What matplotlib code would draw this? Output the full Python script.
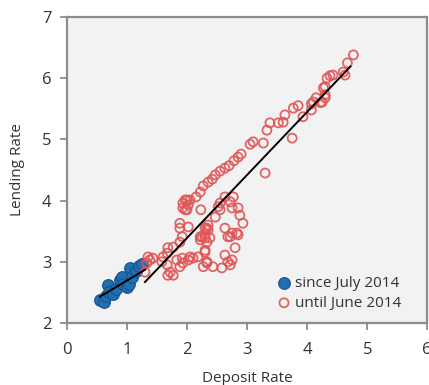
import matplotlib
matplotlib.use("Agg")
import matplotlib.pyplot as plt
import numpy as np

plt.rcParams['font.family'] = ['Open Sans', 'DejaVu Sans']

# since July 2014 (blue, filled)
blue_x = [0.55, 0.62, 0.65, 0.68, 0.70, 0.77, 0.82, 0.88, 0.92, 0.93, 1.00, 1.03, 1.05, 1.08, 1.15, 1.20, 1.25]
blue_y = [2.38, 2.34, 2.44, 2.62, 2.51, 2.47, 2.56, 2.70, 2.75, 2.64, 2.59, 2.64, 2.90, 2.75, 2.85, 2.93, 2.96]

# until June 2014 (red, hollow)
red_x = [4.77, 4.67, 4.60, 4.63, 4.43, 4.38, 4.33, 4.30, 4.27, 4.30, 4.30, 4.25, 4.22, 4.15, 4.10,
         4.07, 4.07, 3.93, 3.85, 3.77, 3.63, 3.60, 3.52, 3.38, 3.33, 3.27, 3.10, 3.05, 3.75, 3.30,
         2.05, 2.15, 2.22, 2.27, 2.35, 2.42, 2.47, 2.55, 2.63, 2.70, 2.78, 2.85, 2.90,
         1.93, 1.97, 2.00, 2.02, 1.97, 1.93, 2.00,
         2.23, 2.55, 2.63, 2.77, 2.72, 2.75, 2.85, 2.52, 2.55, 2.88, 2.93, 2.47, 2.35, 2.33, 2.30,
         2.35, 2.25, 2.30, 2.38, 2.22, 2.63, 2.75, 2.68, 2.83, 2.85, 2.72, 2.80, 2.63, 2.68, 2.75,
         2.72, 2.43, 2.33, 2.58, 2.30,
         1.88, 1.88, 2.02, 1.92, 2.22, 2.30, 2.33, 1.88, 1.77, 1.68, 1.67, 1.60, 1.58, 1.67, 1.72,
         1.77, 1.68, 1.83, 1.92, 1.93, 2.02, 2.05, 2.10, 2.18, 1.88, 1.38, 1.43, 1.33, 1.30, 1.35,
         2.30, 2.33, 2.27]
red_y = [6.38, 6.25, 6.10, 6.05, 6.05, 6.04, 6.00, 5.86, 5.84, 5.73, 5.68, 5.61, 5.60, 5.68, 5.61,
         5.58, 5.48, 5.37, 5.55, 5.51, 5.40, 5.28, 5.27, 5.27, 5.15, 4.94, 4.96, 4.92, 5.02, 4.45,
         4.01, 4.06, 4.14, 4.24, 4.30, 4.35, 4.42, 4.48, 4.53, 4.57, 4.65, 4.71, 4.76,
         3.96, 4.01, 4.01, 3.93, 3.85, 3.88, 3.85,
         3.85, 3.96, 4.06, 4.06, 3.98, 3.88, 3.88, 3.90, 3.85, 3.76, 3.63, 3.73, 3.60, 3.55, 3.55,
         3.52, 3.41, 3.39, 3.39, 3.36, 3.55, 3.47, 3.41, 3.47, 3.44, 3.41, 3.23, 3.11, 3.00, 3.03,
         2.95, 2.92, 2.98, 2.90, 3.16,
         3.63, 3.55, 3.57, 3.41, 3.41, 3.44, 3.32, 3.32, 3.24, 3.23, 3.14, 3.08, 3.00, 2.95, 2.83,
         2.78, 2.78, 3.03, 3.06, 2.98, 3.03, 3.08, 3.06, 3.08, 2.92, 3.03, 3.06, 2.98, 2.83, 3.08,
         3.19, 3.00, 2.92]

# trend lines (end points)
blue_fit_x = [0.55, 1.30]
blue_fit_y = [2.43, 2.87]
red_fit_x = [1.30, 4.72]
red_fit_y = [2.67, 6.19]

x_ticks = [0, 1, 2, 3, 4, 5, 6]
y_ticks = [2, 3, 4, 5, 6, 7]

fig = plt.figure(figsize=(4.29, 3.85), dpi=100)
ax = fig.add_axes([0.156, 0.161, 0.84, 0.795])
ax.set_facecolor('#f2f2f2')

ax.scatter(blue_x, blue_y, s=70, facecolor='#1f6fb2', edgecolor='#17568c', linewidth=0.9,
           zorder=3, label='since July 2014')
ax.scatter(red_x, red_y, s=42, facecolor='none', edgecolor='#e05555', linewidth=1.3,
           alpha=0.9, zorder=4, label='until June 2014')
ax.plot(blue_fit_x, blue_fit_y, color='black', lw=1.4, zorder=5)
ax.plot(red_fit_x, red_fit_y, color='black', lw=1.4, zorder=5)

ax.set_xlim(0, 6)
ax.set_ylim(2, 7)
ax.set_xticks(x_ticks)
ax.set_yticks(y_ticks)
for sp in ax.spines.values():
    sp.set_color('#8c8c8c')
    sp.set_linewidth(1.6)
ax.tick_params(colors='#8c8c8c', labelcolor='#333333', labelsize=12, length=5, width=1.3)
ax.tick_params(axis='x', pad=9)
ax.tick_params(axis='y', pad=6)
ax.set_xlabel('Deposit Rate', fontsize=11, color='#333333', labelpad=9)
ax.set_ylabel('Lending Rate', fontsize=11, color='#333333', labelpad=12)

leg = ax.legend(loc='lower left', bbox_to_anchor=(0.56, 0.02), frameon=False, fontsize=11,
                handletextpad=0.1, labelspacing=0.3, borderaxespad=0, handlelength=1.2,
                labelcolor='#333333')

fig.savefig('out.png', dpi=100)
